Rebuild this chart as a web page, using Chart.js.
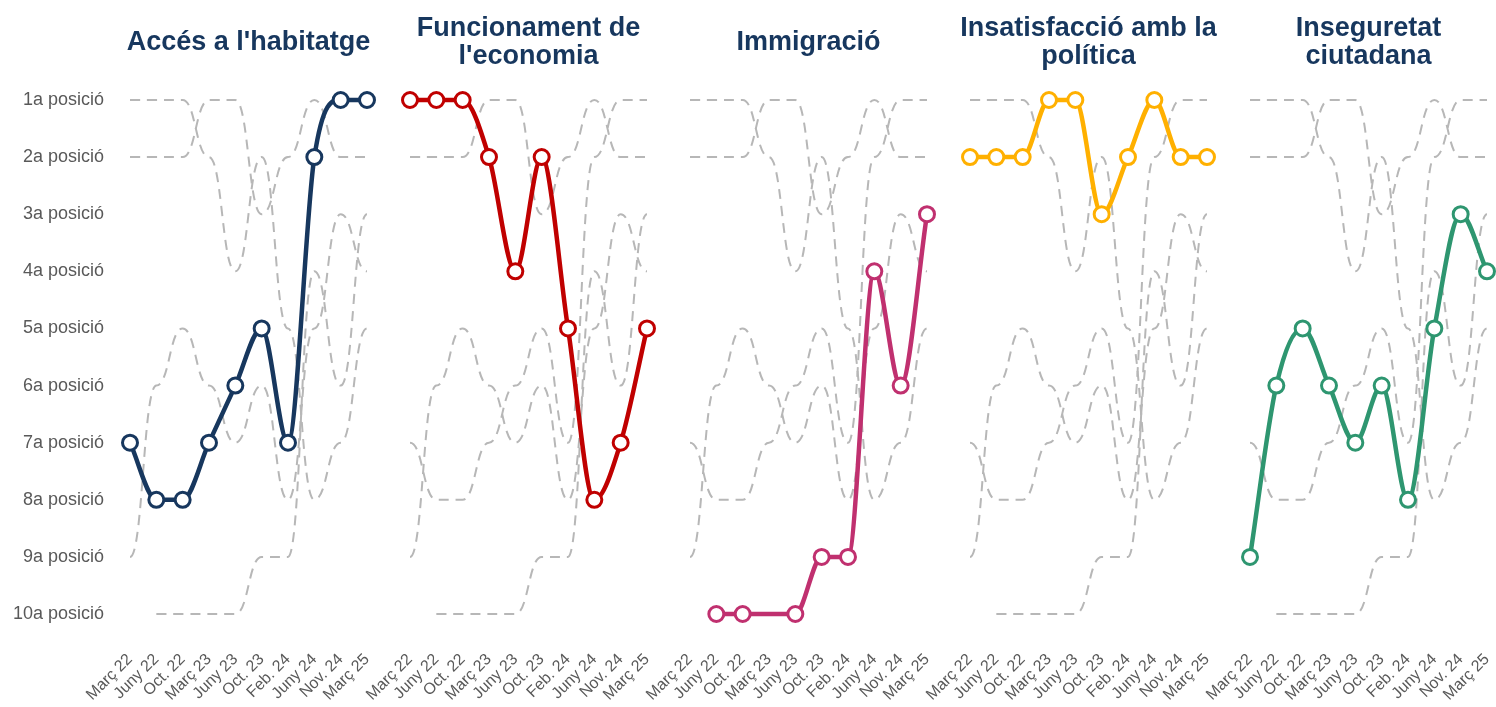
<!DOCTYPE html>
<html lang="ca">
<head>
<meta charset="utf-8">
<title>Principals problemes: evolució de la posició</title>
<script src="https://cdn.jsdelivr.net/npm/chart.js@4.4.1/dist/chart.umd.min.js"></script>
<style>
    html, body {
        margin: 0;
        padding: 0;
        background: #ffffff;
        overflow: hidden;
    }
    body {
        position: relative;
        width: 1496px;
        height: 707px;
        font-family: "Liberation Sans", Arial, sans-serif;
    }
    .panel {
        position: absolute;
        top: 0;
        height: 707px;
    }
    .panel-title {
        position: absolute;
        top: 13px;
        width: 320px;
        height: 56px;
        display: flex;
        align-items: center;
        justify-content: center;
        text-align: center;
        font-size: 27px;
        font-weight: bold;
        line-height: 28px;
        color: #17375e;
    }
</style>
</head>
<body>
<script>
// ============================================================
// DATA
// ============================================================
const periods = ['Març 22', 'Juny 22', 'Oct. 22', 'Març 23', 'Juny 23',
                 'Oct. 23', 'Feb. 24', 'Juny 24', 'Nov. 24', 'Març 25'];

const rankLabels = ['1a posició', '2a posició', '3a posició', '4a posició', '5a posició',
                    '6a posició', '7a posició', '8a posició', '9a posició', '10a posició'];

const habitatge     = [7, 8, 8, 7, 6, 5, 7, 2, 1, 1];
const economia      = [1, 1, 1, 2, 4, 2, 5, 8, 7, 5];
const immigracio    = [null, 10, 10, null, 10, 9, 9, 4, 6, 3];
const insatisfaccio = [2, 2, 2, 1, 1, 3, 2, 1, 2, 2];
const inseguretat   = [9, 6, 5, 6, 7, 6, 8, 5, 3, 4];

const topicTitles = [
    ["Accés a l'habitatge"],
    ['Funcionament de', "l'economia"],
    ['Immigració'],
    ['Insatisfacció amb la', 'política'],
    ['Inseguretat', 'ciutadana']
];

const topicSeries = [habitatge, economia, immigracio, insatisfaccio, inseguretat];

(function () {
    'use strict';

    // ============================================================
    // LAYOUT & STYLE
    // ============================================================
    const PLOT_W = 237;
    const PANEL_STEP = 280;
    const FIRST_LEFT = 130;
    const SIDE = 60;
    const RIGHT_PAD = 12;
    const TOP = 100;
    const BOTTOM = 614;
    const HEIGHT = 707;

    const colors = ['#17375e', '#c00000', '#c0306f', '#ffb000', '#2e9670'];
    const GREY = '#b7b7b7';
    const TEXT = '#595959';
    const FONT = '"Liberation Sans", Arial, sans-serif';

    // grey lines are drawn as a "bump" curve: flat tangent at every point
    const bumpCurve = {
        id: 'bumpCurve',
        beforeDatasetDraw(chart, args) {
            if (!chart.data.datasets[args.index].bump) return;
            const meta = args.meta;
            meta.dataset.updateControlPoints(chart.chartArea, meta.iScale.axis);
            const pts = meta.data.filter(p => !p.skip);
            pts.forEach((p, i) => {
                const prev = pts[i - 1];
                const next = pts[i + 1];
                p.cp1x = prev ? (prev.x + p.x) / 2 : p.x;
                p.cp1y = p.y;
                p.cp2x = next ? (p.x + next.x) / 2 : p.x;
                p.cp2y = p.y;
            });
            meta.dataset._path = undefined;
        }
    };

    // ============================================================
    // BUILD ONE PANEL
    // ============================================================
    function buildPanel(k) {
        const first = k === 0;
        const plotLeft = FIRST_LEFT + k * PANEL_STEP;
        const boxLeft = first ? 0 : plotLeft - SIDE;
        const boxWidth = plotLeft + PLOT_W + RIGHT_PAD - boxLeft;

        const wrap = document.createElement('div');
        wrap.className = 'panel';
        wrap.style.left = boxLeft + 'px';
        wrap.style.width = boxWidth + 'px';
        const canvas = document.createElement('canvas');
        wrap.appendChild(canvas);
        document.body.appendChild(wrap);

        const title = document.createElement('div');
        title.className = 'panel-title';
        title.style.left = (plotLeft + PLOT_W / 2 - 160) + 'px';
        topicTitles[k].forEach((line, i) => {
            if (i) title.appendChild(document.createElement('br'));
            title.appendChild(document.createTextNode(line));
        });
        document.body.appendChild(title);

        const datasets = [{
            data: topicSeries[k],
            borderColor: colors[k],
            borderWidth: 4.5,
            cubicInterpolationMode: 'monotone',
            spanGaps: true,
            pointRadius: 7.5,
            pointBorderWidth: 3,
            pointBackgroundColor: '#ffffff',
            pointBorderColor: colors[k],
            clip: false
        }];

        topicSeries.forEach((series, j) => {
            if (j === k) return;
            datasets.push({
                data: series,
                bump: true,
                borderColor: GREY,
                borderWidth: 2,
                borderDash: [10, 7],
                tension: 0.4,
                spanGaps: true,
                pointRadius: 0,
                clip: false
            });
        });

        const yScale = {
            display: first,
            min: 1,
            max: 10,
            reverse: true,
            grid: { display: false },
            border: { display: false },
            ticks: {
                stepSize: 1,
                padding: 18,
                color: TEXT,
                font: { family: FONT, size: 18 },
                callback: (v) => rankLabels[v - 1]
            }
        };
        if (first) yScale.afterFit = (s) => { s.width = FIRST_LEFT; };

        new Chart(canvas, {
            type: 'line',
            data: { labels: periods, datasets: datasets },
            plugins: [bumpCurve],
            options: {
                responsive: true,
                maintainAspectRatio: false,
                animation: false,
                events: [],
                layout: {
                    padding: { top: TOP, bottom: 0, left: first ? 0 : SIDE, right: RIGHT_PAD }
                },
                plugins: {
                    legend: { display: false },
                    tooltip: { enabled: false },
                    title: { display: false }
                },
                scales: {
                    x: {
                        offset: false,
                        grid: { display: false },
                        border: { display: false },
                        ticks: {
                            autoSkip: false,
                            minRotation: 45,
                            maxRotation: 45,
                            padding: 28,
                            color: TEXT,
                            font: { family: FONT, size: 16 }
                        },
                        afterFit: (s) => {
                            s.height = HEIGHT - BOTTOM;
                            s.paddingLeft = 0;
                            s.paddingRight = 0;
                        }
                    },
                    y: yScale
                }
            }
        });
    }

    // ============================================================
    // INITIAL LOAD
    // ============================================================
    topicSeries.forEach((s, k) => buildPanel(k));
})();
</script>
</body>
</html>
